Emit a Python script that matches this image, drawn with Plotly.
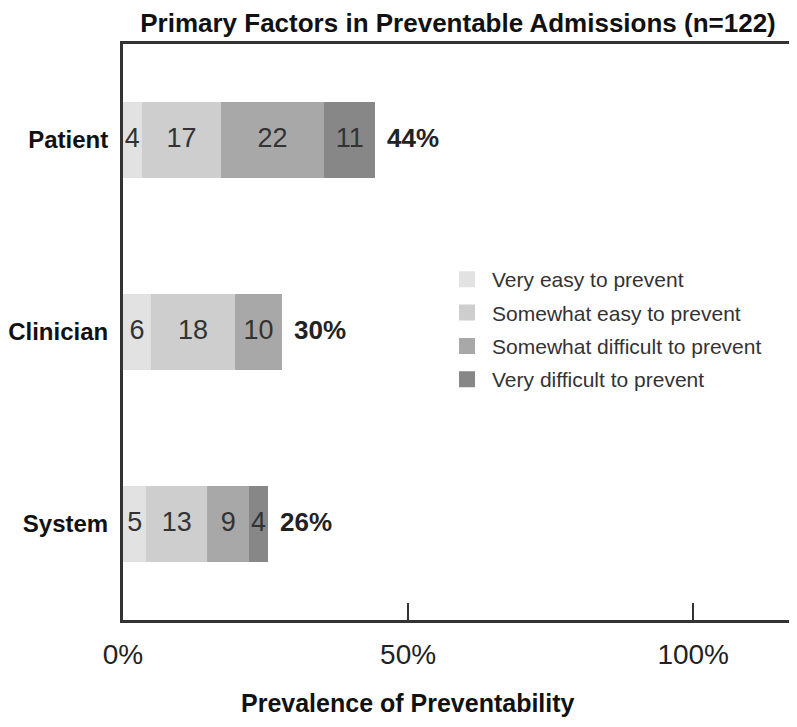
import plotly.graph_objects as go

categories = ["Patient", "Clinician", "System"]
total_n = 122
series_names = ["Very easy to prevent", "Somewhat easy to prevent",
                "Somewhat difficult to prevent", "Very difficult to prevent"]
very_easy = [4, 6, 5]
somewhat_easy = [17, 18, 13]
somewhat_difficult = [22, 10, 9]
very_difficult = [11, 0, 4]
total_labels = ["44%", "30%", "26%"]
tick_vals = [0, 50, 100]
tick_text = ["0%", "50%", "100%"]

series_values = [very_easy, somewhat_easy, somewhat_difficult, very_difficult]
colors = ["#e2e2e2", "#cecece", "#a8a8a8", "#878787"]

FONT = "Liberation Sans, Arial, sans-serif"

# the page body has an 8px default margin; size the figure to fit the window
OFF = 8
W, H = 797 - OFF, 727 - OFF
PLOT_L, PLOT_R, PLOT_T, PLOT_B = 122.5 - OFF, 793.5 - OFF, 43.5 - OFF, 620.5 - OFF
PLOT_H = PLOT_B - PLOT_T

fig = go.Figure()
cum = [0.0] * len(categories)
mid_x, mid_y, mid_t = [], [], []
for name, vals, col in zip(series_names, series_values, colors):
    pct = [v / total_n * 100 for v in vals]
    fig.add_trace(go.Bar(
        y=categories, x=pct, orientation="h", name=name,
        marker=dict(color=col, line=dict(width=0)),
        width=0.4, showlegend=False, hoverinfo="skip",
    ))
    for i, (v, p) in enumerate(zip(vals, pct)):
        if v > 0:
            mid_x.append(cum[i] + p / 2)
            mid_y.append(categories[i])
            mid_t.append(str(v))
        cum[i] += p

# legend entries with larger square swatches
for name, col in zip(series_names, colors):
    fig.add_trace(go.Scatter(
        x=[None], y=[None], mode="markers", name=name,
        marker=dict(symbol="square", size=18, color=col, line=dict(width=0)),
        legendgroup=name, hoverinfo="skip",
    ))

fig.add_trace(go.Scatter(
    x=mid_x, y=mid_y, mode="text", text=mid_t, textposition="middle center",
    textfont=dict(family=FONT, size=27, color="#333333"),
    showlegend=False, hoverinfo="skip", cliponaxis=False,
))

for i, cat in enumerate(categories):
    fig.add_annotation(
        x=cum[i], y=cat, text="<b>%s</b>" % total_labels[i], showarrow=False,
        xanchor="left", yanchor="middle", xshift=10, yshift=2,
        font=dict(family=FONT, size=26, color="#222222"),
    )

fig.add_annotation(
    x=50, xref="x", y=-(704 - 620.5) / PLOT_H, yref="paper",
    text="<b>Prevalence of Preventability</b>", showarrow=False,
    xanchor="center", yanchor="middle",
    font=dict(family=FONT, size=25, color="#111111"),
)

fig.update_layout(
    width=W, height=H,
    margin=dict(l=PLOT_L, r=W - PLOT_R, t=PLOT_T, b=H - PLOT_B, autoexpand=False),
    barmode="stack",
    plot_bgcolor="white", paper_bgcolor="white",
    title=dict(text="<b>Primary Factors in Preventable Admissions (n=122)</b>",
               xref="paper", x=0.5, xanchor="center",
               yref="container", y=1 - (23 - OFF) / H, yanchor="middle",
               font=dict(family=FONT, size=26, color="#111111")),
    legend=dict(x=(442 - 122.5) / (PLOT_R - PLOT_L), y=(620.5 - 259) / PLOT_H,
                xanchor="left", yanchor="top",
                font=dict(family=FONT, size=21, color="#333333"),
                traceorder="grouped", tracegroupgap=3, itemwidth=40,
                bgcolor="rgba(0,0,0,0)"),
    xaxis=dict(range=[0, 117.5], tickvals=tick_vals, ticktext=tick_text,
               ticks="inside", ticklen=17, tickwidth=2, tickcolor="#333333",
               showline=True, linecolor="#333333", linewidth=3, mirror=True,
               showgrid=False, zeroline=False, ticklabelstandoff=7,
               automargin=False,
               tickfont=dict(family=FONT, size=28, color="#222222")),
    yaxis=dict(categoryorder="array", categoryarray=categories[::-1],
               range=[-0.5, 2.5], showline=True, linecolor="#333333", linewidth=3,
               mirror=True, showgrid=False, zeroline=False, ticks="",
               ticklabelstandoff=7, automargin=False,
               tickfont=dict(family=FONT, size=24, color="#111111", weight="bold")),
)

fig.write_html("out.html")
